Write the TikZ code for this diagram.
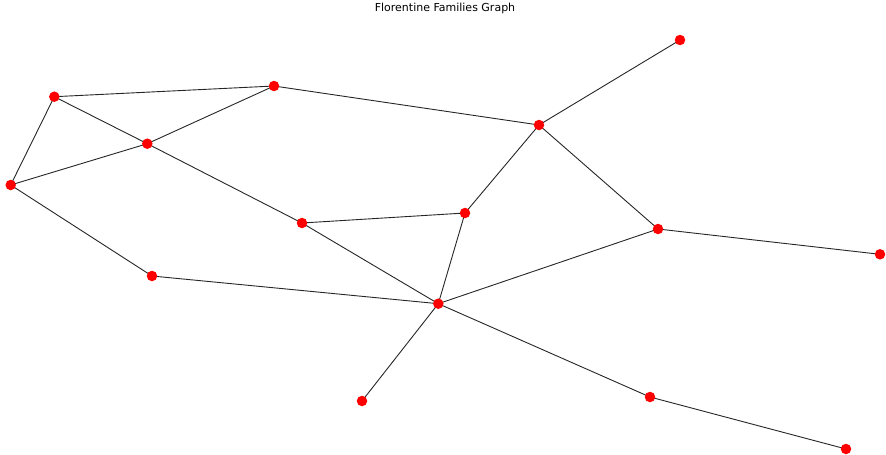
\documentclass[tikz,border=0pt]{standalone}
\usepackage{fontspec}
\setmainfont{DejaVu Sans}
\begin{document}
\begin{tikzpicture}[x=1pt,y=-1pt,
  vtx/.style={circle,fill=red,draw=none,minimum size=10.5pt,inner sep=0pt},
  edge/.style={draw=black!85,line width=0.9pt}]
\useasboundingbox (0,0) rectangle (886,455);
\node[font=\fontsize{11}{13}\selectfont] (title) at (445,8) {Florentine Families Graph};
\coordinate (A) at (54.3,96.7);
\coordinate (B) at (274,86);
\coordinate (C) at (147.3,143.7);
\coordinate (D) at (10.7,185);
\coordinate (E) at (302,223);
\coordinate (F) at (465,213);
\coordinate (G) at (539,125);
\coordinate (H) at (680,40);
\coordinate (I) at (658,229);
\coordinate (J) at (880,254.3);
\coordinate (K) at (152,276);
\coordinate (L) at (438.3,303.7);
\coordinate (M) at (362,401);
\coordinate (N) at (650,397);
\coordinate (O) at (846,449);
\foreach \a/\b in {A/B,A/C,A/D,C/B,C/D,C/E,B/G,G/H,G/F,G/I,F/E,F/L,E/L,D/K,K/L,L/M,L/N,L/I,I/J,N/O}
  \draw[edge] (\a) -- (\b);
\foreach \n in {A,B,C,D,E,F,G,H,I,J,K,L,M,N,O}
  \node[vtx] (v\n) at (\n) {};
\end{tikzpicture}
\end{document}
